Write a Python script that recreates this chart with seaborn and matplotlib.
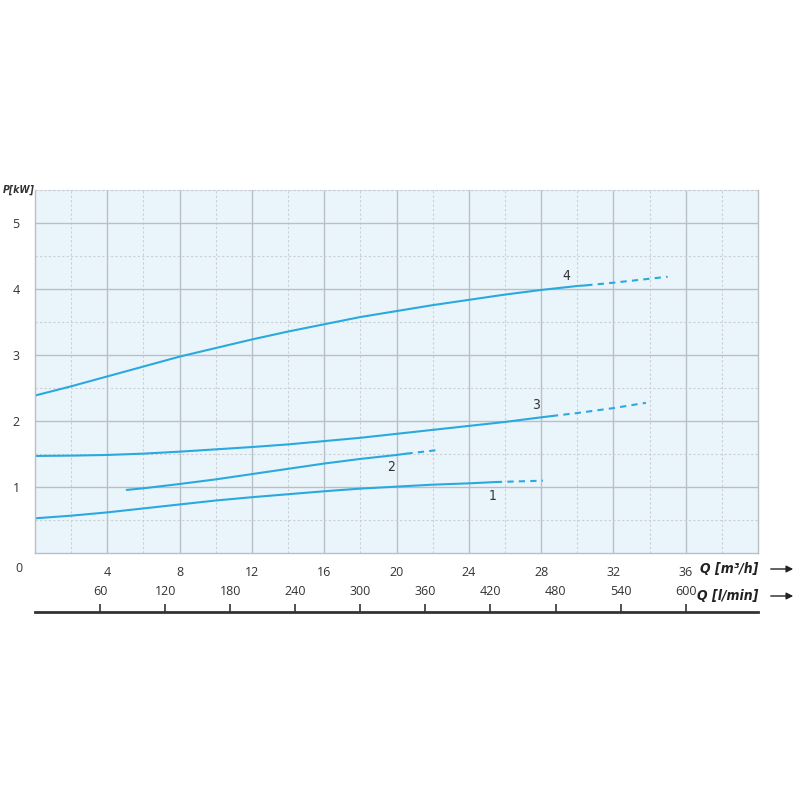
import matplotlib
matplotlib.use("Agg")
import matplotlib.pyplot as plt
import seaborn as sns
import pandas as pd
import numpy as np

# ---- data (Q in m3/h, P in kW) ----
q1 = [0, 2, 4, 6, 8, 10, 12, 14, 16, 18, 20, 22, 24, 25.5]
p1 = [0.53, 0.57, 0.62, 0.68, 0.74, 0.80, 0.85, 0.895, 0.94, 0.98, 1.01, 1.04, 1.06, 1.08]
q1d = [25.5, 28.1]
p1d = [1.08, 1.10]

q2 = [5.07, 6, 8, 10, 12, 14, 16, 18, 20, 20.55]
p2 = [0.96, 0.985, 1.05, 1.12, 1.20, 1.28, 1.36, 1.43, 1.49, 1.51]
q2d = [20.55, 22, 22.4]
p2d = [1.51, 1.555, 1.57]

q3 = [0, 2, 4, 6, 8, 10, 12, 14, 16, 18, 20, 22, 24, 26, 28, 28.6]
p3 = [1.475, 1.48, 1.49, 1.51, 1.54, 1.575, 1.61, 1.65, 1.70, 1.75, 1.81, 1.87, 1.93, 1.99, 2.06, 2.08]
q3d = [28.6, 30, 32, 33.8]
p3d = [2.08, 2.125, 2.20, 2.28]

q4 = [0, 2, 4, 6, 8, 10, 12, 14, 16, 18, 20, 22, 24, 26, 28, 30, 30.5]
p4 = [2.39, 2.53, 2.68, 2.83, 2.98, 3.11, 3.24, 3.36, 3.47, 3.58, 3.67, 3.76, 3.84, 3.92, 3.99, 4.05, 4.06]
q4d = [30.5, 32, 34, 35.0]
p4d = [4.06, 4.10, 4.16, 4.19]

curve_names = ["1", "2", "3", "4"]
label_q = [25.3, 19.7, 27.7, 29.4]
label_p = [0.87, 1.31, 2.25, 4.20]

q_ticks = [4, 8, 12, 16, 20, 24, 28, 32, 36]
p_ticks = [1, 2, 3, 4, 5]
lmin_ticks = [60, 120, 180, 240, 300, 360, 420, 480, 540, 600]

sns.set_theme(style="white")
plt.rcParams['font.family'] = ['Open Sans', 'DejaVu Sans']

LINE = "#2aa9df"
TXT = "#333333"
COND = dict(style="italic", weight="bold", stretch="condensed",
            family=["DejaVu Sans"])
fig = plt.figure(figsize=(8, 8), dpi=100)
L, R, B, T = 35/800, 758/800, 1-553.3/800, 1-190.3/800
ax = fig.add_axes([L, B, R-L, T-B])
ax.set_facecolor("#eaf5fb")

solid = pd.concat([
    pd.DataFrame({"Q": q, "P": p, "curve": n})
    for q, p, n in [(q1, p1, "1"), (q2, p2, "2"), (q3, p3, "3"), (q4, p4, "4")]
])
dashed = pd.concat([
    pd.DataFrame({"Q": q, "P": p, "curve": n})
    for q, p, n in [(q1d, p1d, "1"), (q2d, p2d, "2"), (q3d, p3d, "3"), (q4d, p4d, "4")]
])
pal = {n: LINE for n in curve_names}
sns.lineplot(data=solid, x="Q", y="P", hue="curve", palette=pal, ax=ax,
             legend=False, lw=1.5, sort=False, estimator=None)
sns.lineplot(data=dashed, x="Q", y="P", hue="curve", palette=pal, ax=ax,
             legend=False, lw=1.5, sort=False, estimator=None, linestyle=(0, (3, 2.5)))

ax.set_xlim(0, 40)
ax.set_ylim(0, 5.5)

# grid
for x in np.arange(4, 40, 4):
    ax.axvline(x, color="#b8bfc6", lw=1.0, zorder=0)
for x in np.arange(2, 40, 4):
    ax.axvline(x, color="#c9cfd4", lw=0.8, ls=(0, (2, 2)), zorder=0)
for y in range(1, 6):
    ax.axhline(y, color="#b8bfc6", lw=1.0, zorder=0)
for y in np.arange(0.5, 5.6, 1.0):
    ax.axhline(y, color="#c9cfd4", lw=0.8, ls=(0, (2, 2)), zorder=0)

for s in ["left", "bottom", "right"]:
    ax.spines[s].set_color("#b8bfc6")
    ax.spines[s].set_linewidth(1.0)
ax.spines["top"].set_color("#c9cfd4")
ax.spines["top"].set_linestyle((0, (2, 2)))
ax.spines["top"].set_linewidth(0.8)

ax.set_xticks(q_ticks)
ax.set_xticklabels([str(v) for v in q_ticks])
ax.set_yticks(p_ticks)
ax.set_yticklabels([str(v) for v in p_ticks])
ax.tick_params(axis="both", length=0, labelsize=9, colors=TXT)
ax.tick_params(axis="x", pad=9)
ax.tick_params(axis="y", pad=11)
ax.set_xlabel("")
ax.set_ylabel("")

for n, x, y in zip(curve_names, label_q, label_p):
    ax.text(x, y, n, fontsize=10, color=TXT, ha="center", va="center",
            stretch="condensed", family=["DejaVu Sans"])

fig.text(19/800, 1-569/800, "0", fontsize=9, color=TXT, ha="center", va="center")
fig.text(35/800, 1-190/800, "P[kW]", fontsize=7.5, color=TXT, ha="right", va="center", **COND)

# second axis in l/min
ax2 = fig.add_axes([L, 1-612/800, R-L, 0.0001])
ax2.set_xlim(0, 40*1000/60)
ax2.set_facecolor("none")
for s in ["left", "right", "bottom"]:
    ax2.spines[s].set_visible(False)
ax2.spines["top"].set_color("#333333")
ax2.spines["top"].set_linewidth(2)
ax2.set_yticks([])
ax2.xaxis.tick_top()
ax2.set_xticks(lmin_ticks)
ax2.set_xticklabels([str(v) for v in lmin_ticks])
ax2.tick_params(axis="x", direction="out", length=6, width=1.2, color="#333333",
                labelsize=9, labelcolor=TXT, pad=4)

# axis titles with arrows
fig.text(758/800, 1-569/800, "Q [m³/h]", fontsize=10, color="#222222", ha="right", va="center", **COND)
fig.text(758/800, 1-596/800, "Q [l/min]", fontsize=10, color="#222222", ha="right", va="center", **COND)
for yy in [569, 596]:
    fig.add_artist(matplotlib.patches.FancyArrowPatch(
        (768/800, 1-yy/800), (796/800, 1-yy/800), transform=fig.transFigure,
        arrowstyle="-|>", mutation_scale=10, color="#222222", lw=1))

fig.savefig("out.png", dpi=100)
